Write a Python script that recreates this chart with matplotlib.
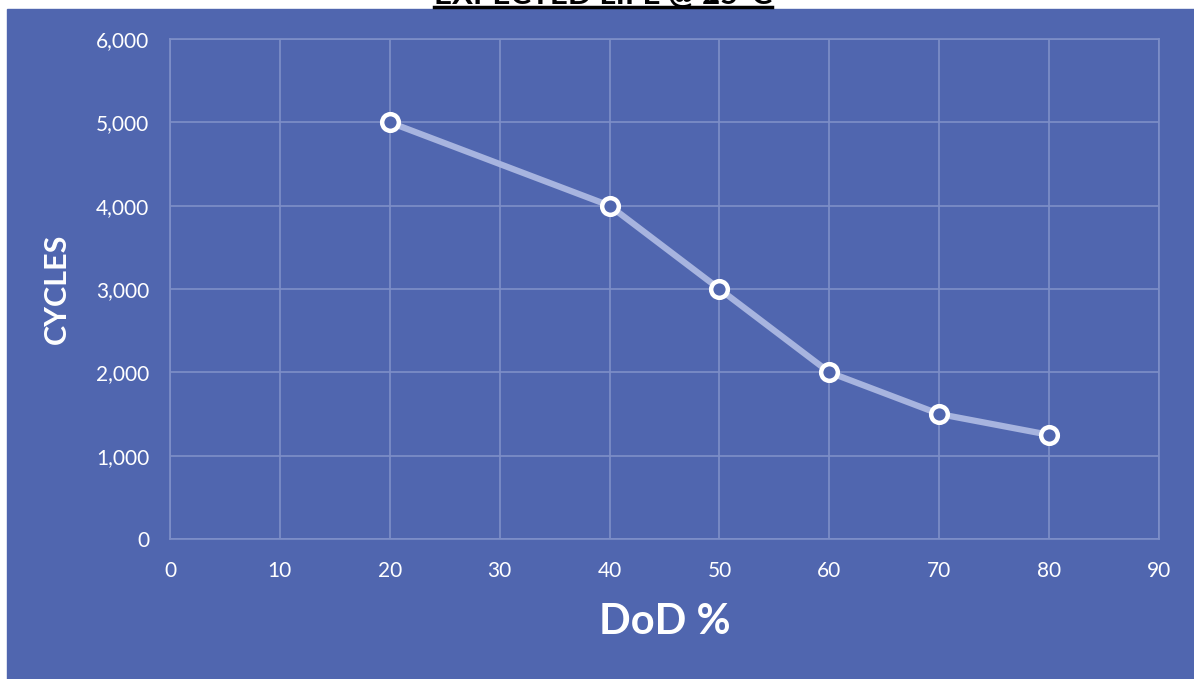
import matplotlib.pyplot as plt
from matplotlib.patches import Rectangle
from matplotlib.lines import Line2D
from matplotlib.ticker import FuncFormatter

dod = [20, 40, 50, 60, 70, 80]
cycles = [5000, 4000, 3000, 2000, 1500, 1250]
x_ticks = list(range(0, 100, 10))
y_ticks = list(range(0, 7000, 1000))

bg = "#5066AF"
grid_col = "#7E8FC8"
line_col = "#A7B4DF"

W, H = 1194, 679
fig = plt.figure(figsize=(W / 100, H / 100), dpi=100, facecolor="white")
plt.rcParams["font.family"] = ["Lato", "DejaVu Sans"]

# blue panel, leaves a thin white strip on the left and top
fig.patches.append(Rectangle((7 / W, 0), 1 - 7 / W, 1 - 9 / H,
                             transform=fig.transFigure, color=bg, zorder=-5))

ax = fig.add_axes([170 / W, (H - 539) / H, 989 / W, 500 / H])
ax.set_zorder(2)
ax.set_facecolor(bg)

ax.plot(dod, cycles, color=line_col, lw=4.5, solid_capstyle="round", zorder=3)
ax.plot(dod, cycles, ls="none", marker="o", ms=12, mfc=bg, mec="white",
        mew=3.2, zorder=4)

ax.set_xlim(0, 90)
ax.set_ylim(0, 6000)
ax.set_xticks(x_ticks)
ax.set_yticks(y_ticks)
ax.yaxis.set_major_formatter(FuncFormatter(lambda v, p: f"{int(v):,}"))
ax.grid(True, color=grid_col, lw=1.2)
ax.set_axisbelow(True)
for s in ax.spines.values():
    s.set_color(grid_col)
    s.set_linewidth(1.2)
ax.tick_params(axis="both", length=0, colors="white", labelsize=15)
ax.tick_params(axis="x", pad=16)
ax.tick_params(axis="y", pad=15)

ax.set_ylabel("CYCLES", color="white", fontsize=22, fontweight="bold", labelpad=18)
ax.set_xlabel("DoD %", color="white", fontsize=30, fontweight="bold", labelpad=16)

# title, mostly cut off by the top edge like in the source
t = fig.text(603 / W, 1 - 4 / H, "EXPECTED LIFE @ 25°C", ha="center",
             va="baseline", fontsize=22.5, fontweight="bold", color="black")
fig.canvas.draw()
bb = t.get_window_extent()
fig.lines.append(Line2D([bb.x0 / W, bb.x1 / W], [1 - 7 / H, 1 - 7 / H],
                        transform=fig.transFigure, color="black", lw=2.5))

fig.savefig("out.png", dpi=100, facecolor="white")
